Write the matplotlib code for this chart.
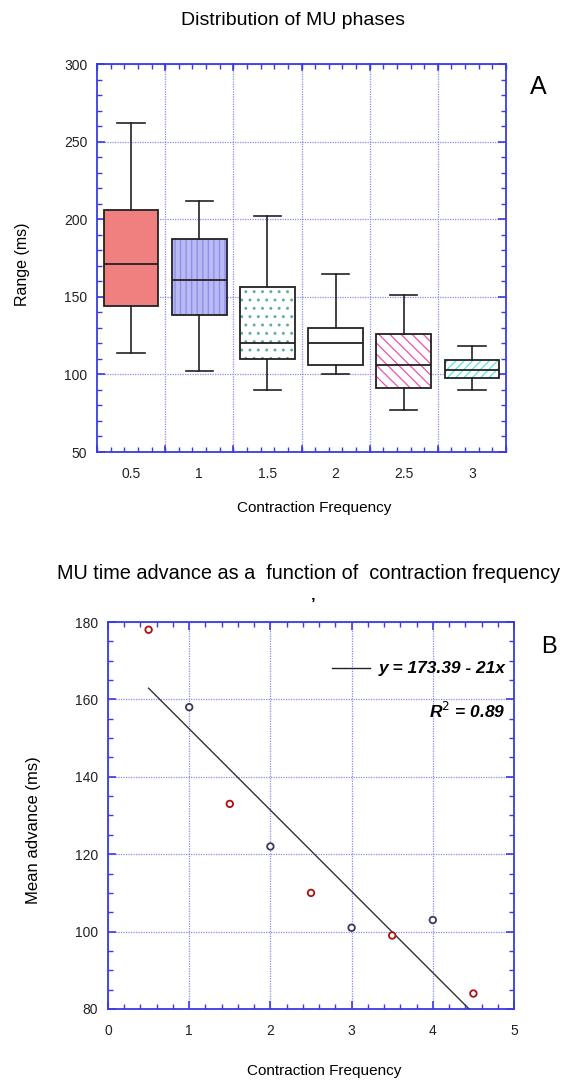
import matplotlib
matplotlib.use("Agg")
import matplotlib.pyplot as plt
from matplotlib.patches import PathPatch
from matplotlib.ticker import MultipleLocator

plt.rcParams['font.family'] = ['Liberation Sans', 'DejaVu Sans']
plt.rcParams['hatch.linewidth'] = 0.9

# ---- Panel A: range of MU phases per contraction frequency ----
freq_labels = ["0.5", "1", "1.5", "2", "2.5", "3"]
whisker_low = [114, 102, 90, 100, 77, 90]
q1_vals = [144, 138, 110, 106, 91, 98]
medians = [171, 161, 120, 120, 106, 103]
q3_vals = [206, 187, 156, 130, 126, 109]
whisker_high = [262, 212, 202, 165, 151, 118]

box_fill = ["#f08080", "#b9b9f4", "white", "white", "white", "white"]
box_hatch = [None, "|||", "..", None, "\\\\\\", "////"]
hatch_col = ["#f08080", "#8c8cec", "#5cb08a", "white", "#f050b0", "#60e0e8"]

# ---- Panel B: mean time advance ----
freq_b = [0.5, 1.0, 1.5, 2.0, 2.5, 3.0, 3.5, 4.0, 4.5]
mean_adv = [178, 158, 133, 122, 110, 101, 99, 103, 84]
fit_intercept = 173.39
fit_slope = -21
r_squared = 0.89

spine_col = "#3a3ae6"
grid_col = "#8a8af0"
W, H = 569, 1084

fig = plt.figure(figsize=(W / 100, H / 100), dpi=100)


def px(x, y):
    """Figure-fraction coordinates from pixel position (origin top-left)."""
    return x / W, 1 - y / H


def style_axes(ax):
    for s in ax.spines.values():
        s.set_color(spine_col)
        s.set_linewidth(1.3)
    ax.tick_params(which="both", direction="in", top=True, right=True,
                   color=spine_col, labelcolor="#222222", labelsize=10)
    ax.tick_params(which="major", length=6, width=1.2)
    ax.tick_params(axis="y", which="major", pad=7)
    ax.tick_params(axis="x", which="major", pad=11)
    ax.tick_params(which="minor", length=3.5, width=1.0)
    ax.grid(True, which="major", color=grid_col, linestyle=(0, (1, 1)),
            linewidth=0.9)
    ax.set_axisbelow(True)


# Panel A
axA = fig.add_axes([97 / W, 1 - 452 / H, 409 / W, 388 / H])
n = len(freq_labels)
stats = []
for i in range(n):
    stats.append(dict(whislo=whisker_low[i], q1=q1_vals[i], med=medians[i],
                      q3=q3_vals[i], whishi=whisker_high[i], fliers=[],
                      label=freq_labels[i]))
positions = [i + 0.5 for i in range(n)]
res = axA.bxp(stats, positions=positions, widths=0.8, patch_artist=True,
              showfliers=False,
              boxprops=dict(linewidth=0),
              medianprops=dict(color="#222222", linewidth=1.3),
              whiskerprops=dict(color="#222222", linewidth=1.2),
              capprops=dict(color="#222222", linewidth=1.2),
              manage_ticks=False)
for i, patch in enumerate(res["boxes"]):
    patch.set_facecolor(box_fill[i])
    patch.set_edgecolor(hatch_col[i])
    if box_hatch[i]:
        patch.set_hatch(box_hatch[i])
    outline = PathPatch(patch.get_path(), transform=patch.get_transform(),
                        facecolor="none", edgecolor="#222222", linewidth=1.3,
                        zorder=patch.get_zorder() + 0.5)
    axA.add_patch(outline)
for m in res["medians"]:
    m.set_zorder(5)

axA.set_xlim(0, n)
axA.set_ylim(50, 300)
axA.set_xticks(positions)
axA.set_xticklabels(freq_labels)
axA.xaxis.set_minor_locator(MultipleLocator(0.2))
axA.yaxis.set_major_locator(MultipleLocator(50))
axA.yaxis.set_minor_locator(MultipleLocator(10))
style_axes(axA)
# grid lines fall on the category borders, not on the labels
axA.grid(False, axis="x")
for b in range(1, n):
    axA.axvline(b, color=grid_col, linestyle=(0, (1, 1)), linewidth=0.9,
                zorder=0.5)
axA.tick_params(axis="x", which="major", length=0)
for b in range(0, n + 1):
    axA.plot([b, b], [50, 54], color=spine_col, lw=1.2, clip_on=False,
             zorder=0.6)
    axA.plot([b, b], [296, 300], color=spine_col, lw=1.2, clip_on=False,
             zorder=0.6)

axA.set_xlabel("Contraction Frequency", fontsize=11)
axA.xaxis.set_label_coords((314 - 97) / 409, -(508 - 452) / 388)
axA.xaxis.label.set_va("center")
axA.set_ylabel("Range (ms)", fontsize=11.5)
axA.yaxis.set_label_coords(-(97 - 23) / 409, (452 - 264) / 388)
axA.yaxis.label.set_va("center")
fig.text(*px(293, 25), "Distribution of MU phases",
         ha="center", va="baseline", fontsize=14)
fig.text(*px(538, 87), "A", ha="center", va="center", fontsize=18)

# Panel B
axB = fig.add_axes([108 / W, 1 - 1009 / H, 406 / W, 387 / H])
pt_cols = ["#aa1111" if (f * 2) % 2 == 1 else "#3a3a5a" for f in freq_b]
axB.scatter(freq_b, mean_adv, s=22, facecolors="white", edgecolors=pt_cols,
            linewidths=1.3, zorder=4)
x_end = (80 - fit_intercept) / fit_slope
xs = [freq_b[0], x_end]
ys = [fit_intercept + fit_slope * x for x in xs]
axB.plot(xs, ys, color="#333333", linewidth=1.0, zorder=3)

axB.set_xlim(0, 5)
axB.set_ylim(80, 180)
axB.xaxis.set_major_locator(MultipleLocator(1))
axB.xaxis.set_minor_locator(MultipleLocator(0.2))
axB.yaxis.set_major_locator(MultipleLocator(20))
axB.yaxis.set_minor_locator(MultipleLocator(5))
style_axes(axB)

# fit legend
axB.plot([2.76, 3.23], [168.1, 168.1], color="#222222", linewidth=1.0,
         zorder=5)
axB.text(4.9, 168.1, "y = %.2f - %gx" % (fit_intercept, -fit_slope),
         ha="right", va="center", fontsize=12.5, fontweight="bold",
         style="italic", zorder=5)
axB.text(4.9, 157.0, "R$^{2}$ = %.2f" % r_squared, ha="right",
         va="center", fontsize=12.5, fontweight="bold", style="italic",
         zorder=5)

axB.set_xlabel("Contraction Frequency", fontsize=11)
axB.xaxis.set_label_coords((324 - 108) / 406, -(1071 - 1009) / 387)
axB.xaxis.label.set_va("center")
axB.set_ylabel("Mean advance (ms)", fontsize=12)
axB.yaxis.set_label_coords(-(108 - 33.5) / 406, (1009 - 830) / 387)
axB.yaxis.label.set_va("center")
fig.text(*px(308.5, 579),
         "MU time advance as a  function of  contraction frequency",
         ha="center", va="baseline", fontsize=14.3)
fig.text(*px(313, 605), "\u2019", ha="center", va="center",
         fontsize=12, fontweight="bold")
fig.text(*px(549, 647), "B", ha="center", va="center", fontsize=17)

fig.savefig("out.png", dpi=100, facecolor="white")
